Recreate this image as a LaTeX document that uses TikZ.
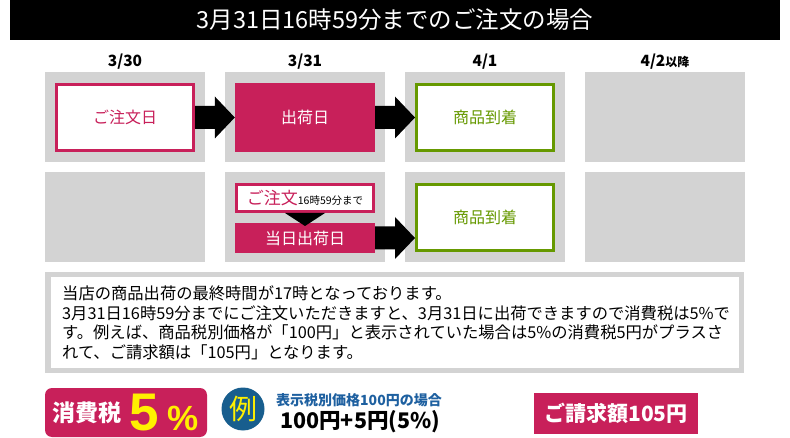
\documentclass[tikz,border=0pt]{standalone}
\usepackage{fontspec}
\setmainfont{Noto Sans CJK JP}
\newfontfamily\numfont{Liberation Sans}
\usetikzlibrary{calc}
\definecolor{crim}{RGB}{200,32,90}
\definecolor{grn}{RGB}{102,153,0}
\definecolor{gry}{RGB}{211,211,211}
\definecolor{blu}{RGB}{24,94,142}
\definecolor{tblu}{RGB}{30,96,160}
\definecolor{yel}{RGB}{255,240,0}
\newcommand\fs[1]{\fontsize{#1}{#1}\selectfont}
\newcommand\blockarr[2]{%
  \fill let \p1=(#1.east), \p2=(#2.west) in
    (\x1,\y1+11.5pt) -- (\x2-20pt,\y1+11.5pt) -- (\x2-20pt,\y1+21pt) -- (\x2,\y1)
    -- (\x2-20pt,\y1-21pt) -- (\x2-20pt,\y1-11.5pt) -- (\x1,\y1-11.5pt) -- cycle;}
\begin{document}
\begin{tikzpicture}[x=1pt,y=-1pt,
  graybox/.style={fill=gry, minimum width=160pt, minimum height=90pt, inner sep=0pt},
  outbox/.style={draw=#1, line width=3pt, fill=white, text=#1, minimum width=137pt, minimum height=66pt, inner sep=0pt, font=\fs{16}},
  fillbox/.style={fill=crim, text=white, minimum width=140pt, minimum height=69pt, inner sep=0pt, font=\fs{16}},
  datelbl/.style={font=\fs{15.5}\bfseries, inner sep=0pt},
  bodyline/.style={anchor=west, inner sep=0pt, font=\fs{16.3}}]
\useasboundingbox (0,0) rectangle (790,438);
% title
\node[fill=black, text=white, minimum width=770pt, minimum height=40pt, inner sep=0pt, font=\fs{23.5}] (title) at (395,20) {3月31日16時59分までのご注文の場合};
% dates
\node[datelbl] (d1) at (125,62) {3/30};
\node[datelbl] (d2) at (305,62) {3/31};
\node[datelbl] (d3) at (485,62) {4/1};
\node[datelbl] (d4) at (665,62) {4/2\fs{12}以降};
% gray boxes
\foreach \i/\x in {1/125,2/305,3/485,4/665}{
  \node[graybox] (ga\i) at (\x,117.5) {};
  \node[graybox] (gb\i) at (\x,217.5) {};
}
% row 1
\node[outbox=crim] (order) at (125,117.5) {ご注文日};
\node[fillbox] (ship) at (305,117.5) {出荷日};
\node[outbox=grn] (arrive) at (485,117.5) {商品到着};
\blockarr{order}{ship}
\blockarr{ship}{arrive}
% row 2
\node[draw=crim, line width=3pt, fill=white, minimum width=137pt, minimum height=27pt, inner sep=0pt] (order2) at (305,198) {\fs{17}\textcolor{crim}{ご注文}\fs{10.5}16時59分まで};
\node[fillbox, minimum height=30pt] (ship2) at (305,238) {当日出荷日};
\fill ($(order2.south)+(-20,0)$) -- ($(order2.south)+(20,0)$) -- ($(order2.south)+(0,13)$) -- cycle;
\node[outbox=grn] (arrive2) at (485,217.5) {商品到着};
\blockarr{ship2}{arrive2}
% text box
\node[draw=gry, line width=5.5pt, fill=white, minimum width=693.5pt, minimum height=95.5pt, inner sep=0pt] (note) at (394.5,322.5) {};
\node[bodyline] (t1) at (62,293) {当店の商品出荷の最終時間が17時となっております。};
\node[bodyline] (t2) at (62,313) {3月31日16時59分までにご注文いただきますと、3月31日に出荷できますので消費税は5\%で};
\node[bodyline] (t3) at (62,332.5) {す。例えば、商品税別価格が「100円」と表示されていた場合は5\%の消費税5円がプラスさ};
\node[bodyline] (t4) at (62,352) {れて、ご請求額は「105円」となります。};
% bottom
\fill[crim, rounded corners=7pt] (45,388) rectangle (207,437);
\node[text=white, inner sep=0pt, font=\fs{23}\bfseries] (tax) at (87,413) {消費税};
\node[text=yel, inner sep=0pt, font=\fs{53}\numfont\bfseries] (five) at (144,412.5) {5};
\node[text=yel, inner sep=0pt, font=\fs{35}\numfont\bfseries] (pct) at (183,418) {\%};
\node[circle, fill=blu, text=yel, minimum size=43pt, inner sep=0pt, font=\fs{28}] (ex) at (243,409) {例};
\node[anchor=west, text=tblu, inner sep=0pt, font=\fs{14}\bfseries] (cond) at (276,400) {表示税別価格100円の場合};
\node[anchor=west, inner sep=0pt, font=\fs{21.5}\bfseries] (calc) at (280,422) {100円+5円(5\%)};
\node[fill=crim, text=white, minimum width=164pt, minimum height=41pt, inner sep=0pt, font=\fs{21}\bfseries] (bill) at (616,413.5) {ご請求額105円};
\end{tikzpicture}
\end{document}
